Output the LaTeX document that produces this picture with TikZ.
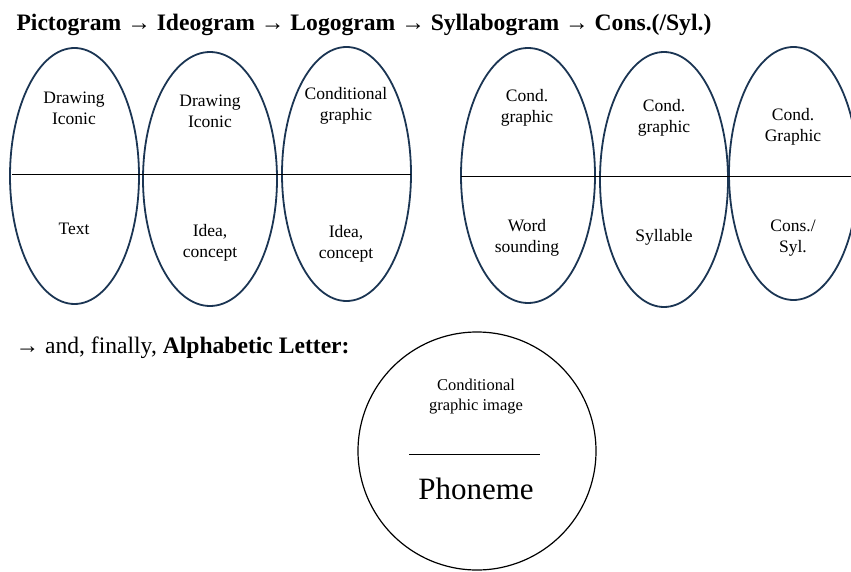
\documentclass[tikz,border=0pt]{standalone}
\usepackage{fontspec}
\setmainfont{Liberation Serif}
\usetikzlibrary{shapes.geometric,positioning}
\definecolor{navy}{HTML}{1B3553}
\begin{document}
\begin{tikzpicture}[x=1pt,y=-1pt]
            \tikzset{
                oval/.style={ellipse,draw=navy,line width=1.8pt,inner sep=0pt},
                label text/.style={align=center,font=\fontsize{17.5}{21}\selectfont},
                head text/.style={anchor=base west,font=\fontsize{23.6}{27}\selectfont},
                divider/.style={line width=1pt}}
            \clip (0,0) rectangle (851,572);
            \useasboundingbox (0,0) rectangle (851,572);
            % title line
            \node[head text] (title) at (13,31) {\textbf{Pictogram} → \textbf{Ideogram} → \textbf{Logogram} → \textbf{Syllabogram} → \textbf{Cons.(/Syl.)}};
            % left group
            \node[oval,minimum width=129pt,minimum height=256pt] (e1) at (74.5,176) {};
            \node[oval,minimum width=134pt,minimum height=254pt] (e2) at (210,179) {};
            \node[oval,minimum width=129pt,minimum height=254pt] (e3) at (346.5,174) {};
            \draw[divider] (12,175) coordinate (l1) -- (411,175) coordinate (l2);
            \node[label text] (t1) at (74,108.5) {Drawing\\Iconic};
            \node[label text] (b1) at (74,229) {Text};
            \node[label text] (t2) at (210,111) {Drawing\\Iconic};
            \node[label text] (b2) at (210,242.5) {Idea,\\concept};
            \node[label text] (t3) at (346,106) {Conditional\\graphic};
            \node[label text] (b3) at (346,244) {Idea,\\concept};
            % right group
            \node[oval,minimum width=134pt,minimum height=255pt] (e4) at (528,175.5) {};
            \node[oval,minimum width=128pt,minimum height=255pt] (e5) at (664,179.5) {};
            \node[oval,minimum width=129pt,minimum height=253pt] (e6) at (793.5,173.5) {};
            \draw[divider] (461,177) coordinate (r1) -- (851,177) coordinate (r2);
            \node[label text] (t4) at (527,107.5) {Cond.\\graphic};
            \node[label text] (b4) at (527,237.5) {Word\\sounding};
            \node[label text] (t5) at (664,117.5) {Cond.\\graphic};
            \node[label text] (b5) at (664,237) {Syllable};
            \node[label text] (t6) at (793,126.5) {Cond.\\Graphic};
            \node[label text] (b6) at (793,238) {Cons./\\Syl.};
            % final step
            \node[head text] (final) at (12,353) {→ and, finally, \textbf{Alphabetic Letter:}};
            \node[ellipse,draw,line width=1.2pt,inner sep=0pt,minimum width=238pt,minimum height=238pt] (e7) at (477,451) {};
            \node[label text,font=\fontsize{16.5}{20}\selectfont] (t7) at (476,397) {Conditional\\graphic image};
            \draw[divider] (409,454) coordinate (m1) -- (540,454) coordinate (m2);
            \node[font=\fontsize{31}{36}\selectfont] (b7) at (476,489) {Phoneme};
        \end{tikzpicture}
\end{document}
